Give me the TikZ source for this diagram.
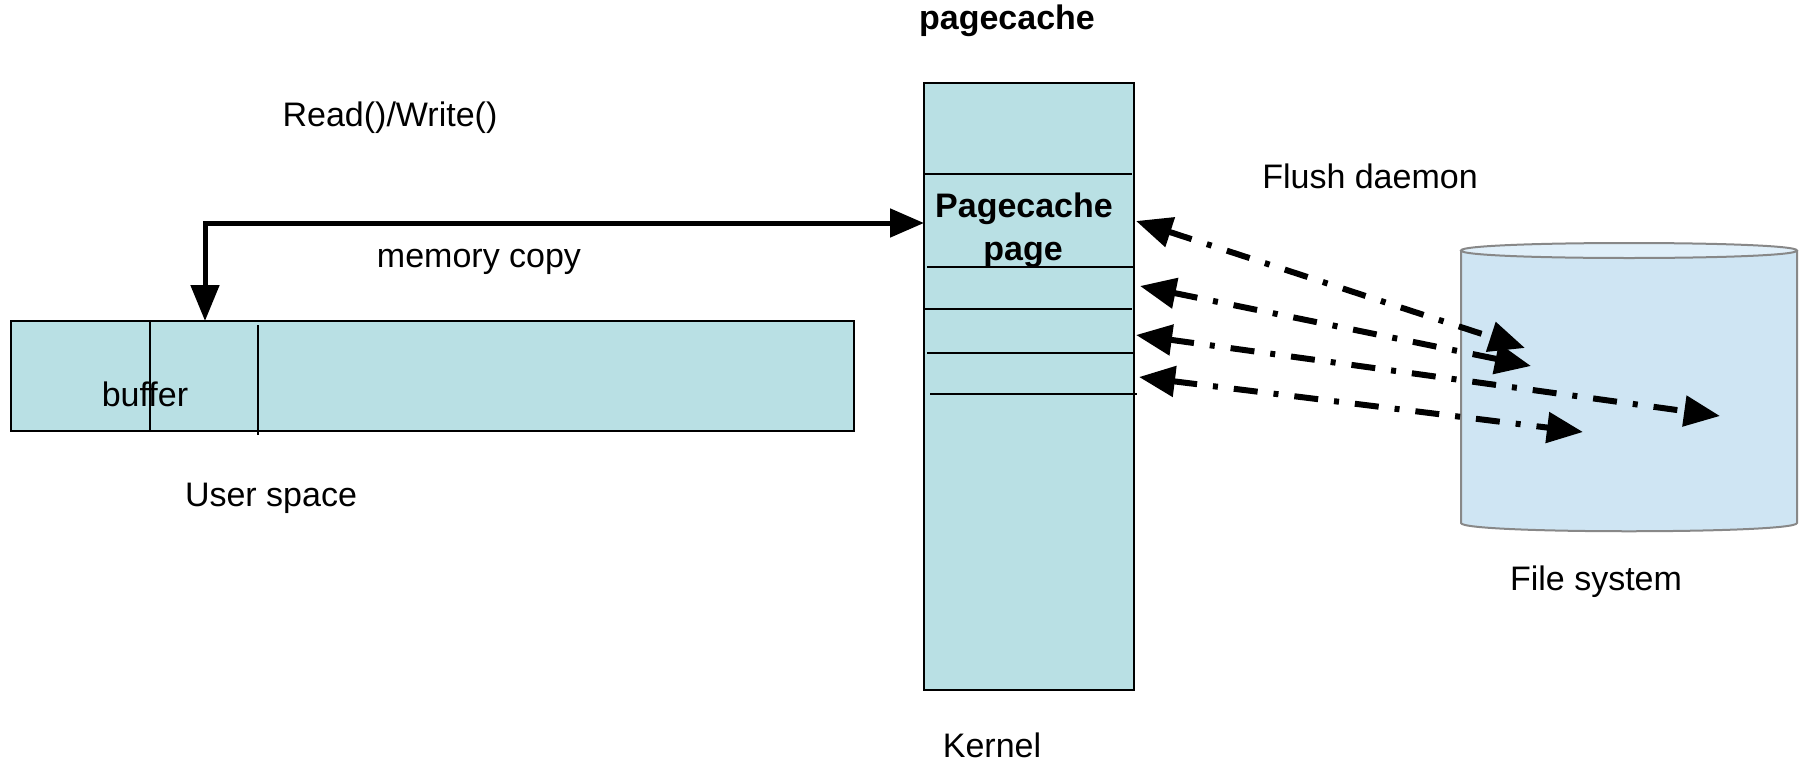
\documentclass[tikz,border=0pt]{standalone}
\usepackage{fontspec}
\setmainfont{Liberation Sans}
\usetikzlibrary{arrows.meta}
\definecolor{boxfill}{RGB}{185,224,228}
\definecolor{cylfill}{RGB}{207,229,243}
\definecolor{cyltop}{RGB}{224,239,249}
\definecolor{cylline}{RGB}{136,136,136}

\begin{document}
\begin{tikzpicture}[x=1pt,y=-1pt,
  lbl/.style={anchor=base, inner sep=0pt, font=\fontsize{34}{34}\selectfont},
  blbl/.style={anchor=base, inner sep=0pt, font=\fontsize{34}{34}\selectfont\bfseries},
  mem/.style={draw, fill=boxfill, line width=2pt, inner sep=0pt},
  sep/.style={line width=2pt},
  copyarrow/.style={line width=5pt, line join=miter,
    {Triangle[length=36pt,width=28pt]}-{Triangle[length=34pt,width=28pt]}},
  flush/.style={line width=6pt, dash pattern=on 24pt off 16pt on 5pt off 16pt,
    {Triangle[length=36pt,width=30pt]}-{Triangle[length=36pt,width=30pt]}}
]
\useasboundingbox (0,0) rectangle (1802,763);

% user-space buffer strip
\node[mem, minimum width=843pt, minimum height=110pt] (user) at (432.5,376) {};
\draw[sep] (150,321) -- (150,431);
\draw[sep] (258,325) -- (258,435);

% kernel page cache column
\node[mem, minimum width=210pt, minimum height=607pt] (kernel) at (1029,386.5) {};
\draw[sep] (924,174) -- (1132,174);
\draw[sep] (927,267) -- (1134,267);
\draw[sep] (924,309) -- (1132,309);
\draw[sep] (927,353) -- (1134,353);
\draw[sep] (930,394) -- (1137,394);

% file system cylinder
\fill[cylfill] (1461,250.5) -- (1461,523) .. controls (1461,534) and (1797,534) .. (1797,523) -- (1797,250.5) -- cycle;
\draw[cylline, line width=2pt] (1461,250.5) -- (1461,523) .. controls (1461,534) and (1797,534) .. (1797,523) -- (1797,250.5);
\draw[cylline, line width=2pt, fill=cyltop] (1461,250.5) .. controls (1461,240.5) and (1797,240.5) .. (1797,250.5)
  .. controls (1797,260.5) and (1461,260.5) .. cycle;

% labels
\node[blbl] (pctitle) at (1007,29) {pagecache};
\node[lbl] (rw) at (390,126) {Read()/Write()};
\node[lbl] (mc) at (479,267) {memory copy};
\node[lbl] (buf) at (145,406) {buffer};
\node[lbl] (us) at (271,506) {User space};
\node[lbl] (fd) at (1370,188) {Flush daemon};
\node[lbl] (fsl) at (1596,590) {File system};
\node[lbl] (kl) at (992,757) {Kernel};
\node[blbl] (pc1) at (1024,217) {Pagecache};
\node[blbl] (pc2) at (1023,260) {page};

% memory copy between buffer and page
\coordinate (ubuf) at (205,321);
\coordinate (pin) at (924,223);
\draw[copyarrow] (ubuf) |- (pin);

% flush daemon write-back paths
\coordinate (p1) at (1136,221); \coordinate (f1) at (1525,348);
\coordinate (p2) at (1140,286); \coordinate (f2) at (1531,366);
\coordinate (p3) at (1136,335); \coordinate (f3) at (1720,416);
\coordinate (p4) at (1139,377); \coordinate (f4) at (1583,432);
\draw[flush] (p1) -- (f1);
\draw[flush] (p2) -- (f2);
\draw[flush] (p3) -- (f3);
\draw[flush] (p4) -- (f4);
\end{tikzpicture}
\end{document}
